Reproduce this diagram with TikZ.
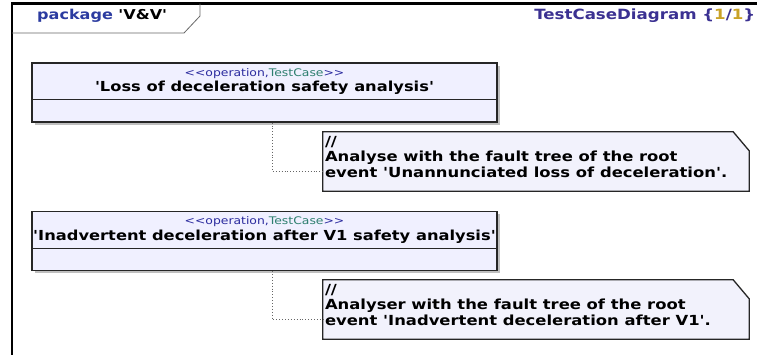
\documentclass[tikz,border=0pt]{standalone}
\usepackage{fontspec}
\setmainfont{DejaVu Sans}[Ligatures=TeXOff, FakeStretch=1.18]
\newfontfamily\sterfont{DejaVu Sans}[Ligatures=TeXOff, FakeStretch=1.18]
\usetikzlibrary{shadows}
\definecolor{pkgblue}{HTML}{2B3BA0}
\definecolor{diagblue}{HTML}{3B3192}
\definecolor{gold}{HTML}{C9A227}
\definecolor{boxfill}{HTML}{F0F0FF}
\definecolor{notefill}{HTML}{F2F2FC}
\definecolor{sterblue}{HTML}{2A2A9E}
\definecolor{sterteal}{HTML}{2E7F6F}
\begin{document}
\begin{tikzpicture}[x=1pt,y=-1pt,
  classbox/.style={draw=black!85, line width=1.3pt, fill=boxfill, minimum width=465pt, minimum height=59pt, inner sep=0pt,
    drop shadow={shadow xshift=2.5pt, shadow yshift=-2.5pt, fill=black!50, opacity=.5}},
  noteanchor/.style={minimum width=426pt, minimum height=59pt, inner sep=0pt},
  notepath/.style={draw=black!85, line width=1.3pt, fill=notefill},
  noteshadow/.style={fill=black!50, opacity=.5},
  stereo/.style={font=\sterfont\fontsize{10.5}{12}\selectfont, inner sep=0pt},
  titletext/.style={font=\bfseries\fontsize{13.8}{16}\selectfont, inner sep=0pt},
  notetext/.style={font=\bfseries\fontsize{13.9}{15.5}\selectfont, inner sep=0pt, align=left, anchor=north west},
  link/.style={dotted, line width=0.9pt, black!60},
  hdr/.style={font=\bfseries\fontsize{13.6}{15}\selectfont, inner sep=0pt, anchor=west}]
\useasboundingbox (0,0) rectangle (757,354);
\clip (0,0) rectangle (757,354);
\fill[white] (0,0) rectangle (757,354);
% frame
\draw[line width=2.4pt] (12,360) -- (12,3.5) -- (770,3.5);
\draw[black!60, line width=0.8pt] (12,33) -- (184,33) -- (200,16) -- (200,3.5);
\node[hdr] (pkg) at (37,16) {\textcolor{pkgblue}{package} 'V\&V'};
\node[hdr, anchor=east, font=\bfseries\fontsize{14.1}{15}\selectfont] (diag) at (755.5,16) {\textcolor{diagblue}{TestCaseDiagram \{\textcolor{gold}{1}/\textcolor{gold}{1}\}}};
% class boxes
\node[classbox] (box1) at (264.5,92.5) {};
\node[classbox] (box2) at (264.5,241) {};
\foreach \b in {box1,box2}{
  \draw[black!85, line width=1pt] ([yshift=-37.5pt]\b.north west) -- ([yshift=-37.5pt]\b.north east);
}
\node[stereo] (s1) at ([yshift=-11pt]box1.north) {\textcolor{sterblue}{<<operation,}\textcolor{sterteal}{TestCase}\textcolor{sterblue}{>>}};
\node[titletext] (t1) at ([yshift=-25.5pt]box1.north) {'Loss of deceleration safety analysis'};
\node[stereo] (s2) at ([yshift=-11pt]box2.north) {\textcolor{sterblue}{<<operation,}\textcolor{sterteal}{TestCase}\textcolor{sterblue}{>>}};
\node[titletext] (t2) at ([yshift=-25.5pt]box2.north) {'Inadvertent deceleration after V1 safety analysis'};
% notes
\node[noteanchor] (n1) at (536,161.5) {};
\node[noteanchor] (n2) at (536,309.5) {};
\foreach \n in {n1,n2}{
  \fill[noteshadow, shift={(2.5,2.5)}] (\n.north west) -- ([xshift=-16pt]\n.north east) -- ([yshift=-19pt]\n.north east) -- (\n.south east) -- (\n.south west) -- cycle;
  \draw[notepath] (\n.north west) -- ([xshift=-16pt]\n.north east) -- ([yshift=-19pt]\n.north east) -- (\n.south east) -- (\n.south west) -- cycle;
}
\node[notetext] (nt1) at ([xshift=2pt,yshift=-4pt]n1.north west) {//\\Analyse with the fault tree of the root\\event 'Unannunciated loss of deceleration'.};
\node[notetext] (nt2) at ([xshift=2pt,yshift=-4pt]n2.north west) {//\\Analyser with the fault tree of the root\\event 'Inadvertent deceleration after V1'.};
% connectors
\draw[link] ([xshift=7.5pt]box1.south) |- ([yshift=-9.5pt]n1.west);
\draw[link] ([xshift=7.5pt]box2.south) |- ([yshift=-9.5pt]n2.west);
\end{tikzpicture}
\end{document}
